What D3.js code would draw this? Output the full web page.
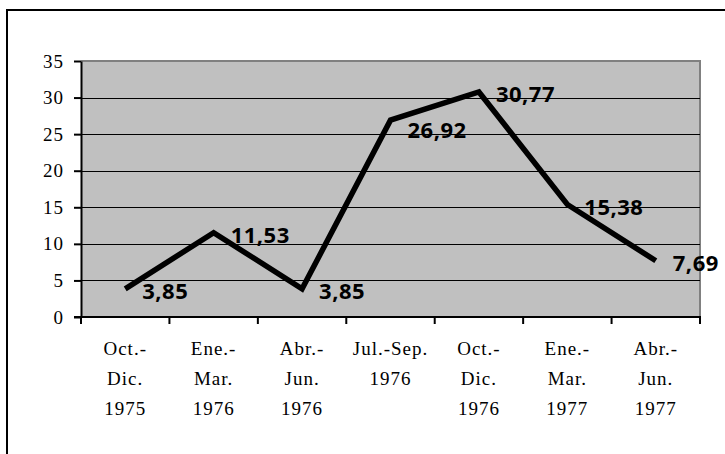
<!DOCTYPE html>
<html>
<head>
<meta charset="utf-8">
<script src="https://cdn.jsdelivr.net/npm/d3@7"></script>
<style>
  html, body { margin: 0; padding: 0; background: #fff; }
  svg { display: block; }
</style>
</head>
<body>
<svg id="chart" width="725" height="454"></svg>
<script>
// quarters shown on the x axis, three lines each
var categories = [
    ['Oct.-', 'Dic.', '1975'],
    ['Ene.-', 'Mar.', '1976'],
    ['Abr.-', 'Jun.', '1976'],
    ['Jul.-Sep.', '1976'],
    ['Oct.-', 'Dic.', '1976'],
    ['Ene.-', 'Mar.', '1977'],
    ['Abr.-', 'Jun.', '1977']
];
var values = [3.85, 11.53, 3.85, 26.92, 30.77, 15.38, 7.69];
var valueLabels = ['3,85', '11,53', '3,85', '26,92', '30,77', '15,38', '7,69'];
var yTicks = [0, 5, 10, 15, 20, 25, 30, 35];

var svg = d3.select('#chart');

var plotL = 81, plotT = 61, plotR = 700, plotB = 317;

// outer frame (only top and left edges fall inside the picture)
svg.append('rect')
    .attr('x', 7).attr('y', 10)
    .attr('width', 760).attr('height', 500)
    .attr('fill', 'none')
    .attr('stroke', '#000')
    .attr('stroke-width', 2);

var x = d3.scaleBand()
    .domain(d3.range(categories.length))
    .range([plotL, plotR])
    .padding(0);

var y = d3.scaleLinear()
    .domain([0, 35])
    .range([plotB, plotT]);

// plot area
svg.append('rect')
    .attr('x', plotL).attr('y', plotT)
    .attr('width', plotR - plotL).attr('height', plotB - plotT)
    .attr('fill', '#c0c0c0');

svg.append('line')
    .attr('x1', plotL).attr('x2', plotR + 1)
    .attr('y1', plotT).attr('y2', plotT)
    .attr('stroke', '#808080').attr('stroke-width', 2);
svg.append('line')
    .attr('x1', plotR).attr('x2', plotR)
    .attr('y1', plotT).attr('y2', plotB)
    .attr('stroke', '#808080').attr('stroke-width', 2);

// gridlines
svg.append('g')
    .selectAll('line')
    .data(yTicks.filter(function (d) { return d > 0 && d < 35; }))
    .enter()
    .append('line')
    .attr('x1', plotL).attr('x2', plotR)
    .attr('y1', function (d) { return Math.round(y(d)) + 0.5; })
    .attr('y2', function (d) { return Math.round(y(d)) + 0.5; })
    .attr('stroke', '#000')
    .attr('stroke-width', 1);

// y axis
var yAxis = svg.append('g')
    .attr('transform', 'translate(' + plotL + ',0)')
    .call(d3.axisLeft(y).tickValues(yTicks).tickSize(7).tickPadding(10).tickSizeOuter(0));
yAxis.select('.domain').attr('stroke', '#000').attr('stroke-width', 2);
yAxis.selectAll('.tick line').attr('stroke', '#000').attr('stroke-width', 2);
yAxis.selectAll('.tick text')
    .attr('font-family', '"Liberation Serif", "Times New Roman", serif')
    .attr('font-size', 19)
    .attr('letter-spacing', 1)
    .attr('fill', '#000');

// x axis, ticks on category boundaries
var bounds = d3.range(categories.length + 1).map(function (i) {
    return plotL + i * x.bandwidth();
});
svg.append('line')
    .attr('x1', plotL - 7).attr('x2', plotR + 1)
    .attr('y1', plotB).attr('y2', plotB)
    .attr('stroke', '#000').attr('stroke-width', 2);
svg.append('g')
    .selectAll('line')
    .data(bounds)
    .enter()
    .append('line')
    .attr('x1', function (d) { return d; })
    .attr('x2', function (d) { return d; })
    .attr('y1', plotB).attr('y2', plotB + 7)
    .attr('stroke', '#000').attr('stroke-width', 2);

var xl = svg.append('g')
    .selectAll('text')
    .data(categories)
    .enter()
    .append('text')
    .attr('text-anchor', 'middle')
    .attr('font-family', '"Liberation Serif", "Times New Roman", serif')
    .attr('font-size', 19)
    .attr('letter-spacing', 1)
    .attr('fill', '#000');
xl.each(function (d, i) {
    var t = d3.select(this);
    d.forEach(function (line, j) {
        t.append('tspan')
            .attr('x', x(i) + x.bandwidth() / 2)
            .attr('y', 355 + j * 30)
            .text(line);
    });
});

// the line
var line = d3.line()
    .x(function (d, i) { return x(i) + x.bandwidth() / 2; })
    .y(function (d) { return y(d); });

svg.append('path')
    .datum(values)
    .attr('d', line)
    .attr('fill', 'none')
    .attr('stroke', '#000')
    .attr('stroke-width', 5.5)
    .attr('stroke-linejoin', 'miter');

// value labels
var labelNudgeY = [0, 0, 0, 8, 0, 0, 0];
svg.append('g')
    .selectAll('text')
    .data(values)
    .enter()
    .append('text')
    .attr('x', function (d, i) { return x(i) + x.bandwidth() / 2 + 17; })
    .attr('y', function (d, i) { return y(d) + 10 + labelNudgeY[i]; })
    .attr('font-family', '"Open Sans", "Liberation Sans", sans-serif')
    .attr('font-weight', 'bold')
    .attr('font-size', 22)
    .attr('letter-spacing', 0.5)
    .attr('fill', '#000')
    .text(function (d, i) { return valueLabels[i]; });
</script>
</body>
</html>
